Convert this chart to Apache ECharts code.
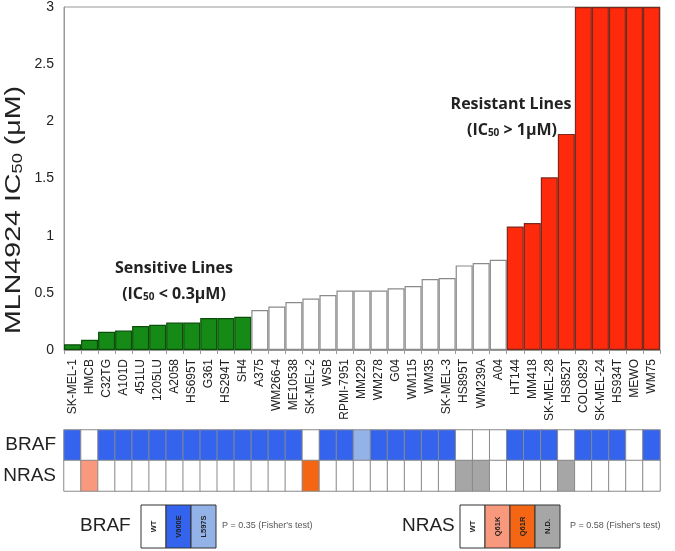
<!DOCTYPE html>
<html>
<head>
<meta charset="utf-8">
<script src="https://cdn.jsdelivr.net/npm/echarts@6/dist/echarts.min.js"></script>
<style>
  html, body { margin: 0; padding: 0; background: #fff; }
  #main { width: 675px; height: 551px; }
</style>
</head>
<body>
<div id="main"></div>
<script>
// cell lines, sorted by IC50
const cellLines = ['SK-MEL-1', 'HMCB', 'C32TG', 'A101D', '451LU', '1205LU', 'A2058', 'HS695T', 'G361', 'HS294T', 'SH4',
  'A375', 'WM266-4', 'ME10538', 'SK-MEL-2', 'WSB', 'RPMI-7951', 'MM229', 'WM278', 'G04', 'WM115', 'WM35', 'SK-MEL-3',
  'HS895T', 'WM239A', 'A04', 'HT144', 'MM418', 'SK-MEL-28', 'HS852T', 'COLO829', 'SK-MEL-24', 'HS934T', 'MEWO', 'WM75']
const ic50 = [0.05, 0.09, 0.16, 0.17, 0.21, 0.22, 0.24, 0.24, 0.28, 0.28, 0.29,
  0.35, 0.38, 0.42, 0.45, 0.48, 0.52, 0.52, 0.52, 0.54, 0.56, 0.62, 0.63,
  0.74, 0.76, 0.79, 1.08, 1.11, 1.51, 1.89, 3, 3, 3, 3, 3]
// mutation status per cell line
const braf = ['V600E', 'WT', 'V600E', 'V600E', 'V600E', 'V600E', 'V600E', 'V600E', 'V600E', 'V600E', 'V600E',
  'V600E', 'V600E', 'V600E', 'WT', 'V600E', 'V600E', 'L597S', 'V600E', 'V600E', 'V600E', 'V600E', 'V600E',
  'WT', 'WT', 'WT', 'V600E', 'V600E', 'V600E', 'WT', 'V600E', 'V600E', 'V600E', 'WT', 'V600E']
const nras = ['WT', 'Q61K', 'WT', 'WT', 'WT', 'WT', 'WT', 'WT', 'WT', 'WT', 'WT',
  'WT', 'WT', 'WT', 'Q61R', 'WT', 'WT', 'WT', 'WT', 'WT', 'WT', 'WT', 'WT',
  'N.D.', 'N.D.', 'WT', 'WT', 'WT', 'WT', 'N.D.', 'WT', 'WT', 'WT', 'WT', 'WT']
const brafKeys = ['WT', 'V600E', 'L597S']
const nrasKeys = ['WT', 'Q61K', 'Q61R', 'N.D.']
const brafP = 'P = 0.35 (Fisher\'s test)'
const nrasP = 'P = 0.58 (Fisher\'s test)'

const mutColor = {
  'WT': '#ffffff',
  'V600E': '#3464ee',
  'L597S': '#93b3e8',
  'Q61K': '#f8987c',
  'Q61R': '#f46614',
  'N.D.': '#a6a6a6'
}

function barStyle (v) {
  if (v < 0.3) return { color: '#168a16', borderColor: '#0b4f0b' }
  if (v > 1) return { color: '#ff2a0c', borderColor: '#7a2a1c' }
  return { color: '#ffffff', borderColor: '#8a8a8a' }
}

const heatData = []
cellLines.forEach((c, i) => {
  heatData.push({ value: [i, 1, 1], itemStyle: { color: mutColor[braf[i]] } })
  heatData.push({ value: [i, 0, 1], itemStyle: { color: mutColor[nras[i]] } })
})

// legend boxes below the heatmap
function legendBox (x, keys) {
  const els = []
  keys.forEach((k, i) => {
    els.push({
      type: 'rect',
      shape: { x: x + i * 25, y: 505, width: 25, height: 43 },
      style: { fill: mutColor[k], stroke: '#333', lineWidth: 1 }
    })
    els.push({
      type: 'text',
      x: x + i * 25 + 12.5,
      y: 526.5,
      rotation: Math.PI / 2,
      style: { text: k, font: 'bold 7.5px "Liberation Sans"', fill: '#222', align: 'center', verticalAlign: 'middle' }
    })
  })
  return els
}

const subRich = {
  a: { font: 'bold 16px "Open Sans"', fill: '#222', verticalAlign: 'bottom', lineHeight: 20 },
  s: { font: 'bold 10px "Open Sans"', fill: '#222', verticalAlign: 'bottom', lineHeight: 20 }
}

const myChart = echarts.init(document.getElementById('main'), null, { renderer: 'canvas' })
myChart.setOption({
  animation: false,
  grid: [
    { left: 64, right: 15, top: 6, bottom: 201, show: true, borderColor: '#999', borderWidth: 1 },
    { left: 64, right: 15, top: 430, height: 61 }
  ],
  xAxis: [
    {
      type: 'category',
      gridIndex: 0,
      data: cellLines,
      axisLine: { lineStyle: { color: '#999' } },
      axisTick: { show: true, interval: 0, length: 4, lineStyle: { color: '#999' } },
      axisLabel: { interval: 0, rotate: 90, fontSize: 12, color: '#222', fontFamily: 'Liberation Sans', margin: 9 }
    },
    {
      type: 'category',
      gridIndex: 1,
      data: cellLines,
      axisLine: { show: false },
      axisTick: { show: false },
      axisLabel: { show: false }
    }
  ],
  yAxis: [
    {
      type: 'value',
      gridIndex: 0,
      min: 0,
      max: 3,
      interval: 0.5,
      splitLine: { show: false },
      axisLine: { show: true, lineStyle: { color: '#999' } },
      axisTick: { show: false },
      axisLabel: { fontSize: 14, color: '#222', fontFamily: 'Liberation Sans', margin: 10 }
    },
    {
      type: 'category',
      gridIndex: 1,
      data: ['NRAS', 'BRAF'],
      axisLine: { show: false },
      axisTick: { show: false },
      axisLabel: { fontSize: 19, color: '#222', fontFamily: 'Liberation Sans', margin: 8 }
    }
  ],
  series: [
    {
      type: 'bar',
      xAxisIndex: 0,
      yAxisIndex: 0,
      barCategoryGap: '0%',
      data: ic50.map(v => ({ value: v, itemStyle: Object.assign({ borderWidth: 1.2 }, barStyle(v)) }))
    },
    {
      type: 'heatmap',
      xAxisIndex: 1,
      yAxisIndex: 1,
      data: heatData,
      itemStyle: { borderColor: '#8a8a8a', borderWidth: 1 }
    }
  ],
  graphic: [
    {
      // y axis title, stretched along its length like the original
      type: 'text', x: 12, y: 210, rotation: Math.PI / 2, scaleX: 1.3,
      style: {
        text: '{a|MLN4924 IC}{s|50}{a| (μM)}', align: 'center', verticalAlign: 'middle',
        rich: {
          a: { font: '22px "Liberation Sans"', fill: '#222', verticalAlign: 'bottom', lineHeight: 26 },
          s: { font: '14px "Liberation Sans"', fill: '#222', verticalAlign: 'bottom', lineHeight: 26 }
        }
      }
    },
    {
      type: 'text', x: 174, y: 268,
      style: { text: 'Sensitive Lines', font: 'bold 16px "Open Sans"', fill: '#222', align: 'center', verticalAlign: 'middle' }
    },
    {
      type: 'text', x: 174, y: 292,
      style: { text: '{a|(IC}{s|50}{a| < 0.3μM)}', align: 'center', verticalAlign: 'middle', rich: subRich }
    },
    {
      type: 'text', x: 511, y: 104,
      style: { text: 'Resistant Lines', font: 'bold 16px "Open Sans"', fill: '#222', align: 'center', verticalAlign: 'middle' }
    },
    {
      type: 'text', x: 512, y: 128,
      style: { text: '{a|(IC}{s|50}{a| > 1μM)}', align: 'center', verticalAlign: 'middle', rich: subRich }
    },
    {
      type: 'text', x: 80, y: 526,
      style: { text: 'BRAF', font: '19px "Liberation Sans"', fill: '#222', verticalAlign: 'middle' }
    },
    {
      type: 'group',
      children: legendBox(141, brafKeys)
    },
    {
      type: 'text', x: 222, y: 526,
      style: { text: brafP, font: '9px "Liberation Sans"', fill: '#555', verticalAlign: 'middle' }
    },
    {
      type: 'text', x: 402, y: 526,
      style: { text: 'NRAS', font: '19px "Liberation Sans"', fill: '#222', verticalAlign: 'middle' }
    },
    {
      type: 'group',
      children: legendBox(460, nrasKeys)
    },
    {
      type: 'text', x: 570, y: 526,
      style: { text: nrasP, font: '9px "Liberation Sans"', fill: '#555', verticalAlign: 'middle' }
    }
  ]
})
</script>
</body>
</html>
